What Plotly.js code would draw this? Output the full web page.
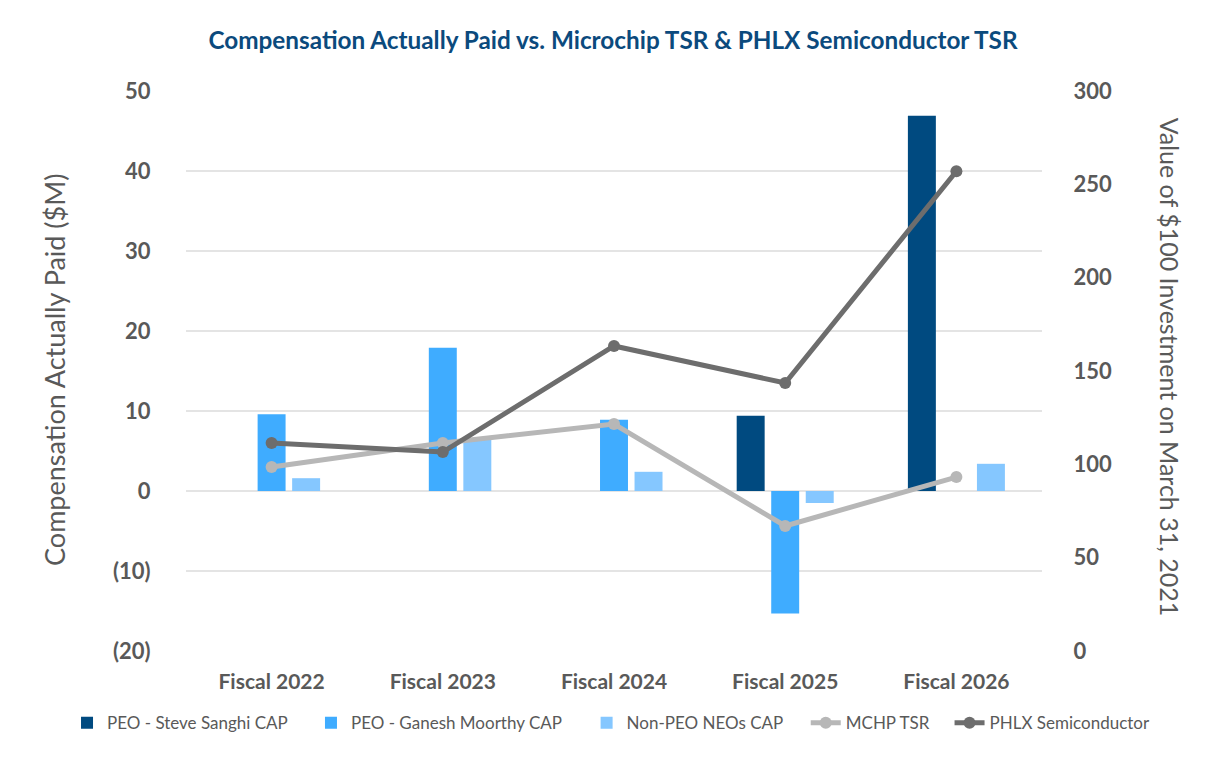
<!DOCTYPE html>
<html><head><meta charset="utf-8">
<script src="https://cdn.plot.ly/plotly-3.0.1.min.js"></script>
<style>html,body{margin:0;padding:0;background:#fff}#chart{width:1226px;height:760px}</style>
</head><body><div id="chart"></div>
<script>
const categories = ["Fiscal 2022","Fiscal 2023","Fiscal 2024","Fiscal 2025","Fiscal 2026"];
const sanghiCAP = [null, null, null, 9.4, 46.9];
const moorthyCAP = [9.6, 17.9, 8.9, -15.3, null];
const nonPeoCAP = [1.6, 6.4, 2.4, -1.5, 3.4];
const mchpTSR = [98.6, 111.4, 121.6, 67.0, 93.2];
const phlxTSR = [111.4, 106.6, 163.4, 143.6, 257.0];
const leftTickVals = [-20,-10,0,10,20,30,40,50];
const leftTickText = ["(20)","(10)","0","10","20","30","40","50"];
const rightTickVals = [0,50,100,150,200,250,300];

const FONT = "Lato, 'Open Sans', sans-serif";
const GREY = "#595959";
const legFont = {family:FONT, size:17, color:GREY};
function leg(x){ return {orientation:"h", x:x, xanchor:"left", y:-0.129, yanchor:"middle", font:legFont, itemwidth:30, bgcolor:"rgba(0,0,0,0)"}; }

const traces = [
  {type:"bar", name:"PEO - Steve Sanghi CAP", x:categories, y:sanghiCAP, marker:{color:"#004A80"}, yaxis:"y", legend:"legend"},
  {type:"bar", name:"PEO - Ganesh Moorthy CAP", x:categories, y:moorthyCAP, marker:{color:"#3FACFF"}, yaxis:"y", legend:"legend2"},
  {type:"bar", name:"Non-PEO NEOs CAP", x:categories, y:nonPeoCAP, marker:{color:"#85C7FF"}, yaxis:"y", legend:"legend3"},
  {type:"scatter", mode:"lines+markers", name:"MCHP TSR", x:categories, y:mchpTSR, yaxis:"y2", legend:"legend4",
   line:{color:"#B7B7B7", width:5}, marker:{color:"#B7B7B7", size:12}},
  {type:"scatter", mode:"lines+markers", name:"PHLX Semiconductor", x:categories, y:phlxTSR, yaxis:"y2", legend:"legend5",
   line:{color:"#6D6D6D", width:5}, marker:{color:"#6D6D6D", size:12}}
];

const layout = {
  width:1226, height:760,
  margin:{l:186, r:184, t:91, b:109},
  paper_bgcolor:"#fff", plot_bgcolor:"#fff",
  font:{family:FONT, color:GREY},
  title:{text:"Compensation Actually Paid vs. Microchip TSR & PHLX Semiconductor TSR",
    font:{family:FONT, size:24.3, color:"#0B4A7D", weight:"bold"}, x:0.5, xanchor:"center", y:0.947, yanchor:"middle"},
  barmode:"group", bargap:0.395, bargroupgap:0.19,
  showlegend:true,
  legend:leg(-0.139), legend2:leg(0.146), legend3:leg(0.468), legend4:leg(0.724), legend5:leg(0.892),
  xaxis:{type:"category", showgrid:false, zeroline:false, showline:false,
    tickfont:{family:FONT, size:21, color:GREY, weight:"bold"}, ticks:"outside", ticklen:12, tickcolor:"rgba(0,0,0,0)"},
  yaxis:{range:[-20,50], tickvals:leftTickVals, ticktext:leftTickText, showgrid:true, gridcolor:"#E4E4E4", gridwidth:2,
    zeroline:false, showline:false, tickfont:{family:FONT, size:22, color:GREY, weight:"bold"},
    ticks:"outside", ticklen:30, tickcolor:"rgba(0,0,0,0)"},
  yaxis2:{range:[0,300], tickvals:rightTickVals, overlaying:"y", side:"right", showgrid:false, zeroline:false, showline:false,
    tickfont:{family:FONT, size:22, color:GREY, weight:"bold"}, ticks:"outside", ticklen:26, tickcolor:"rgba(0,0,0,0)"},
  annotations:[
    {text:"Compensation Actually Paid ($M)", xref:"paper", yref:"paper",
     x:-0.153, y:0.502, xanchor:"center", yanchor:"middle", textangle:-90, showarrow:false,
     font:{family:FONT, size:27, color:GREY}},
    {text:"Value of $100 Investment on March 31, 2021", xref:"paper", yref:"paper",
     x:1.1495, y:0.506, xanchor:"center", yanchor:"middle", textangle:90, showarrow:false,
     font:{family:FONT, size:25, color:GREY}}]
};

Plotly.newPlot("chart", traces, layout, {displayModeBar:false, staticPlot:true});
</script></body></html>
